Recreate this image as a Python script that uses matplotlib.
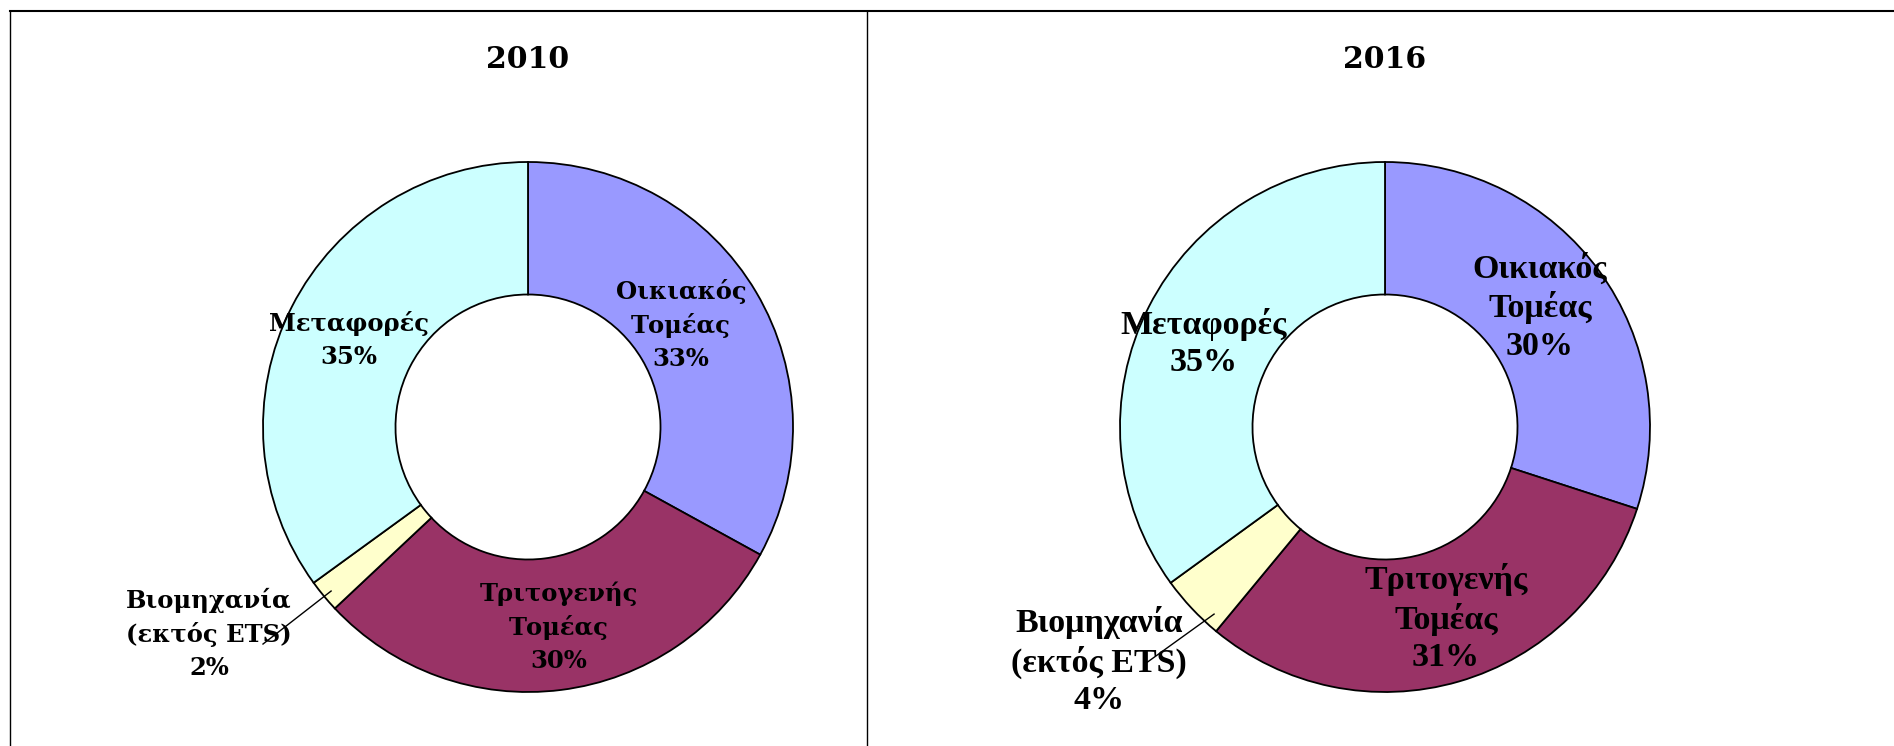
import matplotlib.pyplot as plt
from matplotlib.lines import Line2D

# sector names, clockwise from 12 o'clock
sectors = ['Οικιακός\nΤομέας', 'Τριτογενής\nΤομέας', 'Βιομηχανία\n(εκτός ETS)', 'Μεταφορές']
shares_2010 = [33, 30, 2, 35]
shares_2016 = [30, 31, 4, 35]
colors = ['#9999FF', '#993366', '#FFFFCC', '#CCFFFF']

W, H = 1894, 746
fig = plt.figure(figsize=(W / 100, H / 100), dpi=100)
fig.patch.set_facecolor('white')

# frame lines (top, left, divider)
def px(x, y):
    return x / W, 1 - y / H

for (x0, y0), (x1, y1), lw in [((10, 11), (W, 11), 1.5), ((10, 11), (10, H), 1.0),
                               ((867, 11), (867, H), 1.0)]:
    a, b = px(x0, y0)
    c, d = px(x1, y1)
    fig.add_artist(Line2D([a, c], [b, d], color='black', lw=lw, transform=fig.transFigure))

R = 265


def donut(cx, cy, title, shares, font, lsize, lspace, label_pos, leader):
    ax = fig.add_axes([(cx - R) / W, (H - cy - R) / H, 2 * R / W, 2 * R / H])
    ax.pie(shares, colors=colors, startangle=90, counterclock=False, radius=1,
           wedgeprops=dict(width=0.5, edgecolor='black', linewidth=1.3))
    ax.set_xlim(-1, 1)
    ax.set_ylim(-1, 1)
    ax.set_aspect('equal')
    ax.axis('off')
    for name, val, (x, y) in zip(sectors, shares, label_pos):
        ax.text(x, y, f'{name}\n{val}%', ha='center', va='center', fontsize=lsize,
                fontweight='bold', family=font, linespacing=lspace, clip_on=False)
    ax.plot(leader[0], leader[1], color='black', lw=1.0, clip_on=False)
    fig.text(cx / W, 1 - 59 / H, title, ha='center', va='center', fontsize=21.5,
             fontweight='bold', family='DejaVu Serif')


donut(528, 427, '2010', shares_2010, 'DejaVu Serif', 17.5, 1.47,
      [(0.577, 0.385), (0.117, -0.755), (-1.204, -0.781), (-0.675, 0.328)],
      ([-1.0, -0.743], [-0.819, -0.619]))
donut(1385, 427, '2016', shares_2016, 'Liberation Serif', 24.5, 1.27,
      [(0.585, 0.453), (0.230, -0.721), (-1.079, -0.883), (-0.683, 0.317)],
      ([-0.906, -0.645], [-0.894, -0.706]))

fig.savefig('out.png', dpi=100)
